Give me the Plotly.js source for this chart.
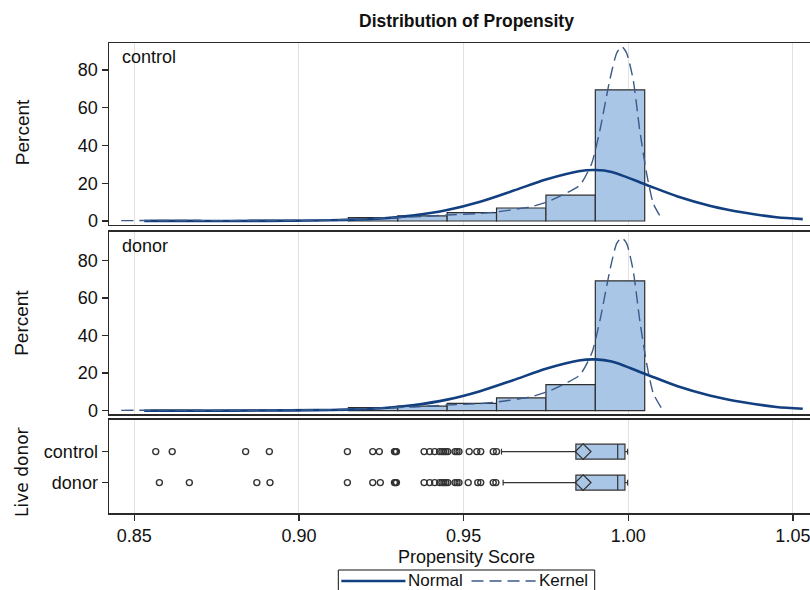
<!DOCTYPE html>
<html>
<head>
<meta charset="utf-8">
<script src="https://cdn.plot.ly/plotly-3.0.1.min.js"></script>
<style>html,body{margin:0;padding:0;background:#fff;}</style>
</head>
<body>
<div id="chart" style="width:810px;height:590px;"></div>
<script>
// ---- Data ----
const groups = ['control', 'donor'];
const binCenters = [0.8625, 0.8775, 0.8925, 0.9225, 0.9375, 0.9525, 0.9675, 0.9825, 0.9975];
const controlPct = [0.3, 0.2, 0.3, 1.8, 2.7, 4.4, 6.9, 13.7, 69.5];
const donorPct   = [0.3, 0.2, 0.3, 1.6, 2.4, 3.9, 6.8, 13.9, 69.1];
const binWidth = 0.015;

// Normal curve points
const normalX = [0.853, 0.87, 0.89, 0.905, 0.915, 0.925, 0.935, 0.945, 0.955, 0.965, 0.975, 0.985, 0.99, 0.995, 1.005, 1.015, 1.025, 1.035, 1.045, 1.053];
const normalControl = [0.0, 0.0, 0.1, 0.3, 0.6, 1.3, 3.0, 5.8, 10.2, 16.0, 22.0, 26.4, 27.0, 26.0, 19.5, 13.0, 8.0, 4.5, 2.0, 1.0];
const normalDonor   = [0.0, 0.0, 0.1, 0.3, 0.6, 1.3, 3.0, 5.9, 10.4, 16.2, 22.3, 26.7, 27.3, 26.2, 19.7, 13.0, 8.0, 4.5, 2.0, 1.0];

// Kernel density points
const kernelX = [0.846, 0.86, 0.875, 0.89, 0.905, 0.915, 0.925, 0.935, 0.945, 0.955, 0.96, 0.9702, 0.9753, 0.9803, 0.9853, 0.9889, 0.9914, 0.9944, 0.9965, 0.998, 0.9995, 1.0015, 1.0035, 1.0056, 1.0076, 1.0101];
const kernelControl = [0.2, 0.3, 0.2, 0.3, 0.4, 0.8, 1.5, 2.2, 3.2, 4.0, 4.8, 7.5, 10.0, 14.0, 19.0, 30.5, 48.2, 74.8, 89.0, 92.5, 89.0, 74.8, 48.0, 25.0, 9.3, 1.3];
const kernelDonor   = [0.2, 0.3, 0.2, 0.3, 0.4, 0.8, 1.4, 2.0, 3.0, 3.8, 4.6, 7.3, 10.0, 14.0, 19.0, 30.5, 48.0, 74.5, 89.0, 92.0, 89.0, 74.5, 48.0, 25.0, 9.3, 1.3];

// Box plot statistics
const boxQ1     = [0.9841, 0.9841];
const boxMedian = [0.9968, 0.9968];
const boxQ3     = [0.9990, 0.9990];
const boxLow    = [0.9615, 0.9620];
const boxHigh   = [0.9998, 0.9998];
const boxMean   = [0.9863, 0.9863];

// Outliers
const outControl = [0.8565, 0.8615, 0.8838, 0.8910, 0.9147, 0.9224, 0.9244, 0.9290, 0.9293, 0.9296, 0.9380, 0.9397, 0.9412, 0.9427, 0.9434, 0.9440, 0.9446, 0.9452, 0.9474, 0.9480, 0.9486, 0.9517, 0.9540, 0.9552, 0.9590, 0.9600];
const outDonor   = [0.8576, 0.8667, 0.8872, 0.8912, 0.9147, 0.9224, 0.9247, 0.9290, 0.9293, 0.9296, 0.9380, 0.9397, 0.9412, 0.9427, 0.9434, 0.9440, 0.9446, 0.9452, 0.9474, 0.9480, 0.9486, 0.9514, 0.9543, 0.9552, 0.9590, 0.9598];

// Legend labels
const legendLabels = ['Normal', 'Kernel'];

// ---- Styles ----
const barFill = '#a9c6e6';
const edge = '#2e2e2e';
const normalColor = '#123f80';
const kernelColor = '#3a5a8a';
const FONT = 'Liberation Sans, Arial, sans-serif';
const FS = 18;

function histTraces(pct, normY, kernY, xa, ya) {
  return [
    {type: 'bar', x: binCenters, y: pct, width: binWidth, xaxis: xa, yaxis: ya,
     marker: {color: barFill, line: {color: edge, width: 1.2}}, showlegend: false, hoverinfo: 'skip'},
    {type: 'scatter', mode: 'lines', x: normalX, y: normY, xaxis: xa, yaxis: ya, name: legendLabels[0],
     line: {color: normalColor, width: 2.6, shape: 'spline', smoothing: 0.8}, showlegend: false},
    {type: 'scatter', mode: 'lines', x: kernelX, y: kernY, xaxis: xa, yaxis: ya, name: legendLabels[1],
     line: {color: kernelColor, width: 1.4, dash: '12px,6px', shape: 'spline', smoothing: 0.6}, showlegend: false}
  ];
}

const traces = [];
traces.push(...histTraces(controlPct, normalControl, kernelControl, 'x', 'y'));
traces.push(...histTraces(donorPct, normalDonor, kernelDonor, 'x2', 'y2'));

groups.forEach((g, i) => {
  traces.push({type: 'box', orientation: 'h', y: [i], q1: [boxQ1[i]], median: [boxMedian[i]], q3: [boxQ3[i]],
    lowerfence: [boxLow[i]], upperfence: [boxHigh[i]], xaxis: 'x3', yaxis: 'y3', width: 0.48,
    whiskerwidth: 0.4, fillcolor: barFill, line: {color: '#333', width: 1.2}, boxpoints: false,
    showlegend: false, hoverinfo: 'skip'});
  const outs = i === 0 ? outControl : outDonor;
  traces.push({type: 'scatter', mode: 'markers', x: outs, y: outs.map(() => i), xaxis: 'x3', yaxis: 'y3',
    marker: {symbol: 'circle-open', size: 6, color: '#333', line: {width: 1.4}}, showlegend: false, hoverinfo: 'skip'});
  traces.push({type: 'scatter', mode: 'markers', x: [boxMean[i]], y: [i], xaxis: 'x3', yaxis: 'y3',
    marker: {symbol: 'diamond-open', size: 12, color: '#333', line: {width: 1.3}}, showlegend: false, hoverinfo: 'skip'});
});

const xRange = [0.8423, 1.0552];
const xTicks = [0.85, 0.90, 0.95, 1.00, 1.05];
function xAxis(anchor, labels) {
  return {anchor: anchor, domain: [0, 1], range: xRange, tickvals: xTicks, ticktext: xTicks.map(v => v.toFixed(2)),
    showgrid: true, gridcolor: '#e2e2e2', gridwidth: 1, zeroline: false,
    showline: true, mirror: true, linecolor: '#2a2a2a', linewidth: 1.5,
    showticklabels: labels, ticks: labels ? 'outside' : '', ticklen: 6, tickwidth: 1.3, tickcolor: '#2a2a2a',
    ticklabeloverflow: 'allow',
    tickfont: {family: FONT, size: FS, color: '#111'}};
}
function yAxis(anchor, domain, range, vals, text) {
  const a = {anchor: anchor, domain: domain, range: range, tickvals: vals,
    showgrid: false, zeroline: false, showline: true, mirror: true, linecolor: '#2a2a2a', linewidth: 1.5,
    ticks: 'outside', ticklen: 6, tickwidth: 1.3, tickcolor: '#2a2a2a', tickfont: {family: FONT, size: FS, color: '#111'}};
  if (text) a.ticktext = text;
  return a;
}
const pctTicks = [0, 20, 40, 60, 80];

// Legend drawn in paper coordinates below the plot (px -> paper helpers)
const PL = 109, PW = 700, PB = 513, PH = 470;
const px = v => (v - PL) / PW;
const py = v => (PB - v) / PH;

const legendShapes = [
  {type: 'rect', xref: 'paper', yref: 'paper', x0: px(338), x1: px(594), y0: py(570), y1: py(600),
   line: {color: '#111', width: 1}, fillcolor: '#fff', layer: 'above'},
  {type: 'line', xref: 'paper', yref: 'paper', x0: px(341), x1: px(405), y0: py(581), y1: py(581),
   line: {color: normalColor, width: 2.6}},
  {type: 'line', xref: 'paper', yref: 'paper', x0: px(471), x1: px(535), y0: py(581), y1: py(581),
   line: {color: kernelColor, width: 1.4, dash: '12px,6px'}}
];

const layout = {
  width: 810, height: 590,
  margin: {l: PL, r: 0, t: 43, b: 77, autoexpand: false},
  paper_bgcolor: '#fff', plot_bgcolor: '#fff',
  font: {family: FONT, size: FS, color: '#111'},
  title: {text: '<b>Distribution of Propensity</b>', font: {family: FONT, size: 17.5, color: '#111'},
          xref: 'paper', x: 0.51, xanchor: 'center', y: 0.965, yanchor: 'middle'},
  bargap: 0,
  showlegend: false,
  xaxis: xAxis('y', false),
  xaxis2: xAxis('y2', false),
  xaxis3: xAxis('y3', true),
  yaxis: yAxis('x', [0.6128, 1], [-2.1, 94.3], pctTicks),
  yaxis2: yAxis('x2', [0.2106, 0.5979], [-1.76, 95.05], pctTicks),
  yaxis3: yAxis('x3', [0, 0.1979], [1.98, -1.02], [0, 1], groups),
  shapes: legendShapes,
  annotations: [
    {text: 'control', xref: 'paper', yref: 'paper', x: 0.0157, y: 0.970, xanchor: 'left', yanchor: 'middle', showarrow: false, font: {family: FONT, size: FS, color: '#111'}},
    {text: 'donor', xref: 'paper', yref: 'paper', x: 0.0157, y: 0.568, xanchor: 'left', yanchor: 'middle', showarrow: false, font: {family: FONT, size: FS, color: '#111'}},
    {text: 'Percent', xref: 'paper', yref: 'paper', x: -0.1243, y: 0.81, xanchor: 'center', yanchor: 'middle', textangle: -90, showarrow: false, font: {family: FONT, size: 19, color: '#111'}},
    {text: 'Percent', xref: 'paper', yref: 'paper', x: -0.1243, y: 0.4043, xanchor: 'center', yanchor: 'middle', textangle: -90, showarrow: false, font: {family: FONT, size: 19, color: '#111'}},
    {text: 'Live donor', xref: 'paper', yref: 'paper', x: -0.1243, y: 0.0872, xanchor: 'center', yanchor: 'middle', textangle: -90, showarrow: false, font: {family: 'DejaVu Sans, sans-serif', size: 17, color: '#111'}},
    {text: 'Propensity Score', xref: 'paper', yref: 'paper', x: 0.51, y: -0.0936, xanchor: 'center', yanchor: 'middle', showarrow: false, font: {family: FONT, size: FS, color: '#111'}},
    {text: legendLabels[0], xref: 'paper', yref: 'paper', x: px(407), y: py(580), xanchor: 'left', yanchor: 'middle', showarrow: false, borderpad: 0, font: {family: FONT, size: 17, color: '#111'}},
    {text: legendLabels[1], xref: 'paper', yref: 'paper', x: px(537), y: py(580), xanchor: 'left', yanchor: 'middle', showarrow: false, borderpad: 0, font: {family: FONT, size: 17, color: '#111'}}
  ]
};

Plotly.newPlot('chart', traces, layout, {displayModeBar: false, staticPlot: true});
</script>
</body>
</html>
